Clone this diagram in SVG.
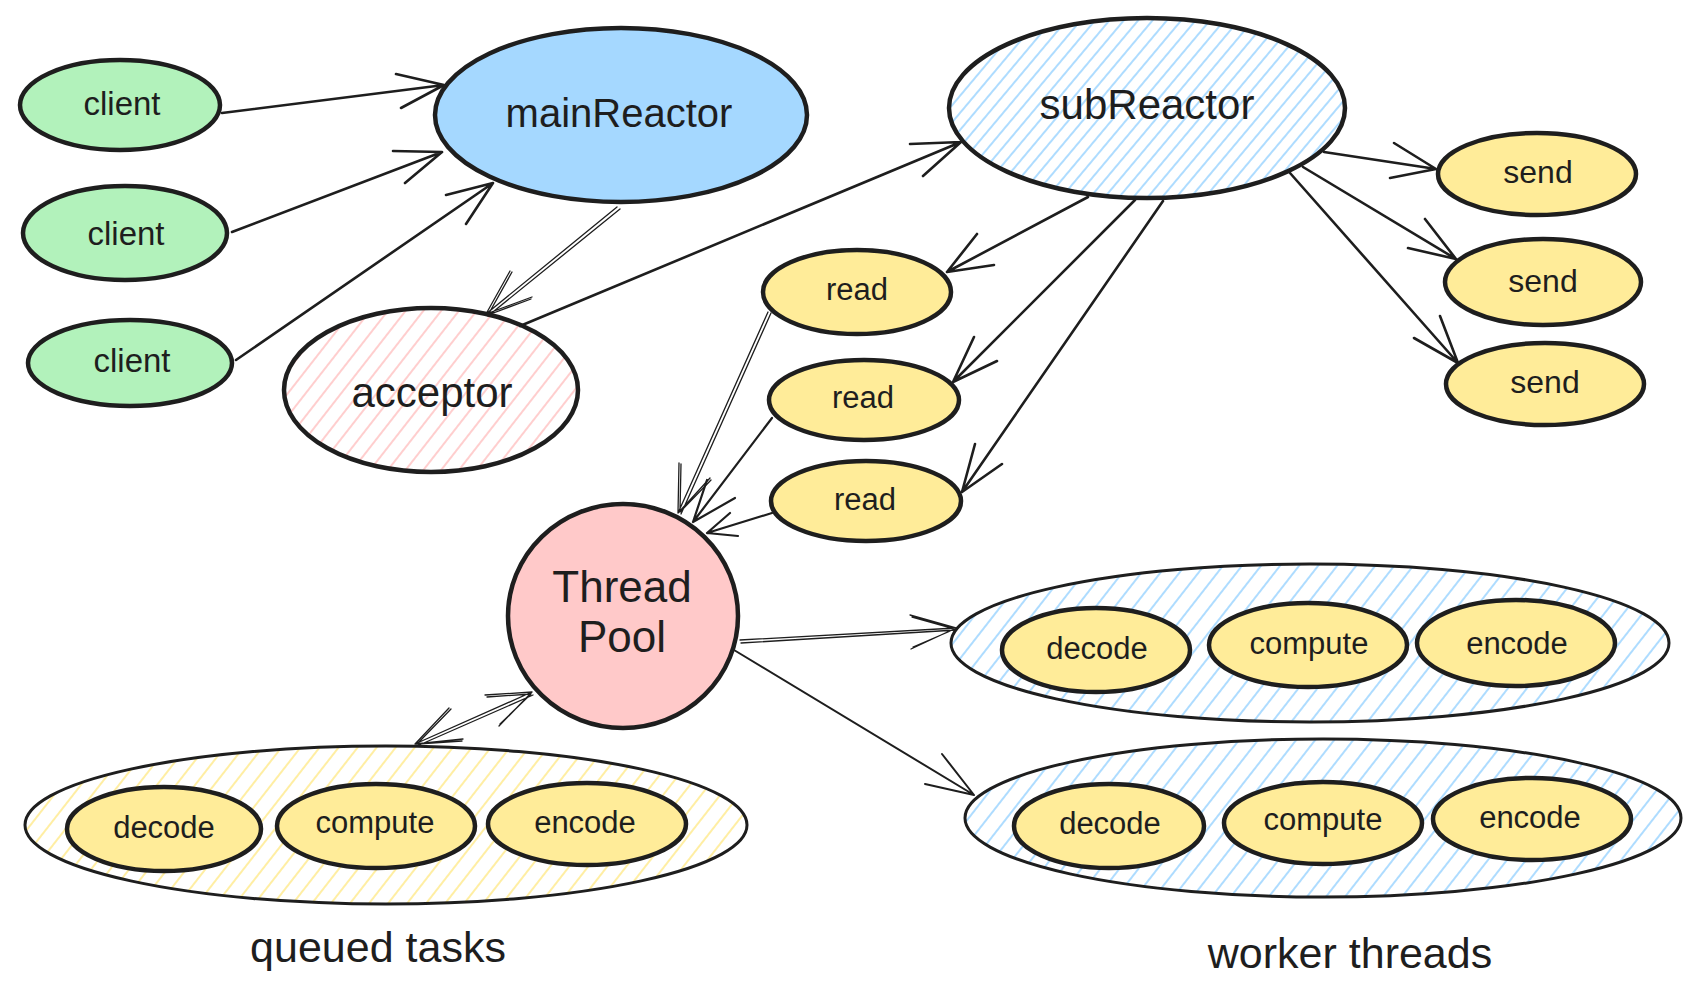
<svg xmlns="http://www.w3.org/2000/svg" width="1707" height="1002" viewBox="0 0 1707 1002">
<defs>
  <pattern id="hBlueD" patternUnits="userSpaceOnUse" width="11" height="11" patternTransform="rotate(40)">
    <line x1="5" y1="-2" x2="5" y2="13" stroke="#a5d8ff" stroke-width="1.8"/>
  </pattern>
  <pattern id="hBlue" patternUnits="userSpaceOnUse" width="15" height="15" patternTransform="rotate(38)">
    <line x1="7" y1="-2" x2="7" y2="17" stroke="#a5d8ff" stroke-width="1.8"/>
  </pattern>
  <pattern id="hPink" patternUnits="userSpaceOnUse" width="14" height="14" patternTransform="rotate(38)">
    <line x1="7" y1="-2" x2="7" y2="16" stroke="#ffc9c9" stroke-width="1.8"/>
  </pattern>
  <pattern id="hYellow" patternUnits="userSpaceOnUse" width="15" height="15" patternTransform="rotate(38)">
    <line x1="7" y1="-2" x2="7" y2="17" stroke="#ffec99" stroke-width="1.8"/>
  </pattern>
</defs>
<style>
  .node { stroke: #1e1e1e; stroke-width: 4.5; }
  .group { stroke: #1e1e1e; stroke-width: 3; }
  .green { fill: #b2f2bb; }
  .blue { fill: #a5d8ff; }
  .pink { fill: #ffc9c9; }
  .yellow { fill: #ffec99; }
  .hblued { fill: url(#hBlueD); }
  .hblue { fill: url(#hBlue); }
  .hpink { fill: url(#hPink); }
  .hyellow { fill: url(#hYellow); }
  text { font-family: "Liberation Sans", Arial, sans-serif; fill: #1e1e1e; text-anchor: middle; }
  .t31 { font-size: 31px; }
  .t32 { font-size: 32px; }
  .t33 { font-size: 33px; }
  .t40 { font-size: 40px; }
  .t42 { font-size: 42px; }
  .t43 { font-size: 43px; }
  .t44 { font-size: 44px; }
  .c { fill: none; stroke: #1e1e1e; stroke-width: 2.6; stroke-linecap: round; stroke-linejoin: round; }
  .thin { fill: none; stroke: #1e1e1e; stroke-width: 1.3; stroke-linecap: round; stroke-linejoin: round; }
</style>
<rect width="1707" height="1002" fill="#ffffff"/>

<g id="group-queued">
  <ellipse cx="386" cy="825" rx="361" ry="79" class="group hyellow"/>
  <text x="378" y="962" class="t43">queued tasks</text>
</g>
<g id="group-worker1">
  <ellipse cx="1310" cy="643" rx="359" ry="79" class="group hblue"/>
</g>
<g id="group-worker2">
  <ellipse cx="1323" cy="818" rx="358" ry="79" class="group hblue"/>
  <text x="1350" y="968" class="t43">worker threads</text>
</g>

<g id="connectors">
  <!-- clients to mainReactor -->
  <path class="c" d="M222 113 L444 85 M396 74 L444 85 L401 108"/>
  <path class="c" d="M232 232 L442 152 M393 151 L442 152 L405 183"/>
  <path class="c" d="M236 360 L493 183 M446 195 L493 183 L466 224"/>
  <!-- mainReactor to acceptor (thin double) -->
  <path class="thin" d="M617 207 L486 314 M620 209 L488 316 M510 271 L486 314 L532 297 M512 272 L488 315 L531 299"/>
  <!-- acceptor to subReactor -->
  <path class="c" d="M520 326 L961 142 M910 144 L961 142 L923 176"/>
  <!-- subReactor to reads -->
  <path class="c" d="M1088 197 L947 272 M977 234 L947 272 L994 265"/>
  <path class="c" d="M1135 200 L953 382 M974 337 L953 382 L997 361"/>
  <path class="c" d="M1163 201 L962 492 M975 444 L962 492 L1002 464"/>
  <!-- subReactor to sends -->
  <path class="c" d="M1324 152 L1436 169 M1394 143 L1436 169 L1390 178"/>
  <path class="c" d="M1303 167 L1456 259 M1425 219 L1456 259 L1408 248"/>
  <path class="c" d="M1290 173 L1458 363 M1440 316 L1458 363 L1414 338"/>
  <!-- reads to Thread Pool -->
  <path class="thin" d="M768 312 L678 513 M771 313 L681 514 M679 463 L678 513 L710 478 M681 464 L680 512 L711 480"/>
  <path class="c" d="M772 418 L693 522 M707 480 L693 522 L735 498" style="stroke-width:2.2"/>
  <path class="c" d="M772 513 L707 533 M730 513 L707 533 L738 536" style="stroke-width:2.2"/>
  <!-- Thread Pool to workers -->
  <path class="thin" d="M740 640 L956 628 M741 643 L956 630 M910 615 L956 628 L911 649 M912 617 L955 629 L913 647"/>
  <path class="c" d="M734 650 L974 795 M942 754 L974 795 L925 784" style="stroke-width:2"/>
  <!-- Thread Pool <-> queued tasks -->
  <path class="thin" d="M415 744 L532 692 M417 746 L533 695 M449 708 L415 744 L463 739 M485 695 L532 692 L499 726 M451 709 L417 744 L462 741 M487 697 L531 694 L500 724"/>
</g>

<g id="node-client1">
  <ellipse cx="120" cy="105" rx="100" ry="45" class="node green"/>
  <text x="122" y="115" class="t33">client</text>
</g>
<g id="node-client2">
  <ellipse cx="125" cy="233" rx="102" ry="47" class="node green"/>
  <text x="126" y="245" class="t33">client</text>
</g>
<g id="node-client3">
  <ellipse cx="130" cy="363" rx="102" ry="43" class="node green"/>
  <text x="132" y="372" class="t33">client</text>
</g>
<g id="node-mainReactor">
  <ellipse cx="621" cy="115" rx="186" ry="87" class="node blue"/>
  <text x="619" y="127" class="t40">mainReactor</text>
</g>
<g id="node-subReactor">
  <ellipse cx="1147" cy="108" rx="198" ry="90" class="node hblued"/>
  <text x="1147" y="119" class="t42">subReactor</text>
</g>
<g id="node-acceptor">
  <ellipse cx="431" cy="390" rx="147" ry="82" class="node hpink"/>
  <text x="432" y="407" class="t42">acceptor</text>
</g>
<g id="node-read1">
  <ellipse cx="857" cy="292" rx="94" ry="42" class="node yellow"/>
  <text x="857" y="300" class="t31">read</text>
</g>
<g id="node-read2">
  <ellipse cx="864" cy="400" rx="95" ry="40" class="node yellow"/>
  <text x="863" y="408" class="t31">read</text>
</g>
<g id="node-read3">
  <ellipse cx="866" cy="501" rx="95" ry="40" class="node yellow"/>
  <text x="865" y="510" class="t31">read</text>
</g>
<g id="node-send1">
  <ellipse cx="1537" cy="174" rx="99" ry="41" class="node yellow"/>
  <text x="1538" y="183" class="t32">send</text>
</g>
<g id="node-send2">
  <ellipse cx="1543" cy="282" rx="98" ry="43" class="node yellow"/>
  <text x="1543" y="292" class="t32">send</text>
</g>
<g id="node-send3">
  <ellipse cx="1545" cy="384" rx="99" ry="41" class="node yellow"/>
  <text x="1545" y="393" class="t32">send</text>
</g>
<g id="node-threadpool">
  <ellipse cx="623" cy="616" rx="115" ry="112" class="node pink"/>
  <text x="622" y="602" class="t44">Thread</text>
  <text x="622" y="652" class="t44">Pool</text>
</g>
<g id="node-q-decode">
  <ellipse cx="164" cy="829" rx="97" ry="42" class="node yellow"/>
  <text x="164" y="838" class="t31">decode</text>
</g>
<g id="node-q-compute">
  <ellipse cx="376" cy="826" rx="99" ry="42" class="node yellow"/>
  <text x="375" y="833" class="t31">compute</text>
</g>
<g id="node-q-encode">
  <ellipse cx="587" cy="824" rx="99" ry="41" class="node yellow"/>
  <text x="585" y="833" class="t31">encode</text>
</g>
<g id="node-w1-decode">
  <ellipse cx="1096" cy="650" rx="94" ry="42" class="node yellow"/>
  <text x="1097" y="659" class="t31">decode</text>
</g>
<g id="node-w1-compute">
  <ellipse cx="1308" cy="645" rx="99" ry="42" class="node yellow"/>
  <text x="1309" y="654" class="t31">compute</text>
</g>
<g id="node-w1-encode">
  <ellipse cx="1516" cy="643" rx="99" ry="43" class="node yellow"/>
  <text x="1517" y="654" class="t31">encode</text>
</g>
<g id="node-w2-decode">
  <ellipse cx="1109" cy="826" rx="95" ry="42" class="node yellow"/>
  <text x="1110" y="834" class="t31">decode</text>
</g>
<g id="node-w2-compute">
  <ellipse cx="1323" cy="823" rx="99" ry="41" class="node yellow"/>
  <text x="1323" y="830" class="t31">compute</text>
</g>
<g id="node-w2-encode">
  <ellipse cx="1532" cy="819" rx="99" ry="41" class="node yellow"/>
  <text x="1530" y="828" class="t31">encode</text>
</g>
</svg>
